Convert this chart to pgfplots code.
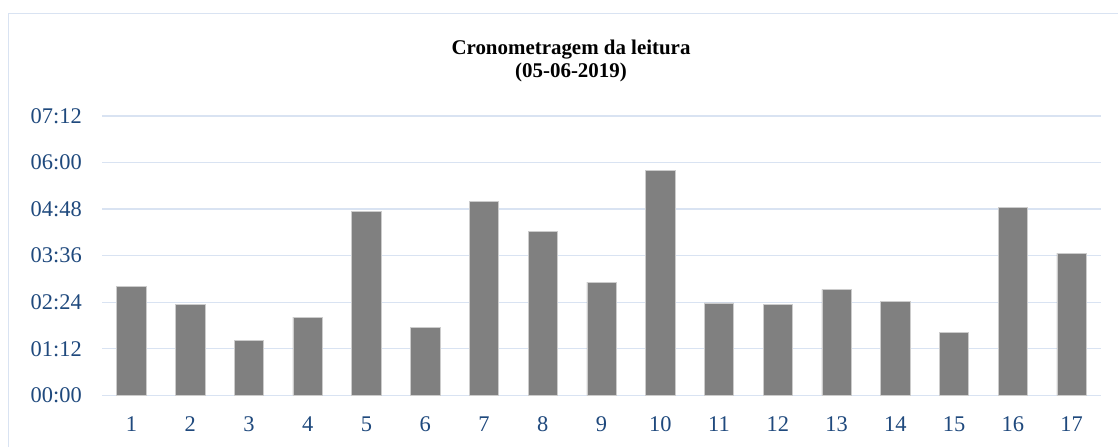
\documentclass[border=0pt]{standalone}
\usepackage{fontspec}
\setmainfont{Liberation Serif}
\usepackage{pgfplots}
\pgfplotsset{compat=1.18}
\definecolor{gridblue}{RGB}{217,227,242}
\definecolor{labelblue}{RGB}{31,73,125}
\definecolor{bargray}{RGB}{128,128,128}
\begin{document}
\begin{tikzpicture}[x=1bp,y=1bp]
\useasboundingbox (0,0) rectangle (1118,447);
\fill[white] (0,0) rectangle (1118,447);
\draw[gridblue, line width=1.5bp] (8.5,0) -- (8.5,433.5) -- (1118,433.5);
\begin{axis}[
  at={(102bp,51.7bp)}, anchor=south west,
  scale only axis, width=999bp, height=279.3bp,
  xmin=0.5, xmax=17.5, ymin=0, ymax=432,
  ybar, bar width=0.5,
  xtick={1,2,3,4,5,6,7,8,9,10,11,12,13,14,15,16,17},
  xticklabels={1,2,3,4,5,6,7,8,9,10,11,12,13,14,15,16,17},
  ytick={0,72,144,216,288,360,432},
  yticklabels={00:00,01:12,02:24,03:36,04:48,06:00,07:12},
  ymajorgrids, grid style={gridblue, line width=1.3bp},
  axis line style={draw=none}, major tick length=0,
  tick label style={font=\fontsize{22.5}{27}\selectfont, text=labelblue, inner sep=0pt},
  xticklabel style={anchor=center, yshift=-29bp},
  yticklabel style={anchor=east, xshift=-20bp},
]
\addplot[fill=bargray, draw=white!80!black, line width=0.6bp] coordinates {
(1,169) (2,141) (3,85) (4,121) (5,285) (6,105) (7,300) (8,254) (9,175)
(10,348) (11,143) (12,141) (13,164) (14,145) (15,97) (16,290) (17,220)};
\end{axis}
\node[font=\fontsize{21}{24}\selectfont\bfseries, align=center] at (571,386) {Cronometragem da leitura\\(05-06-2019)};
\end{tikzpicture}
\end{document}
